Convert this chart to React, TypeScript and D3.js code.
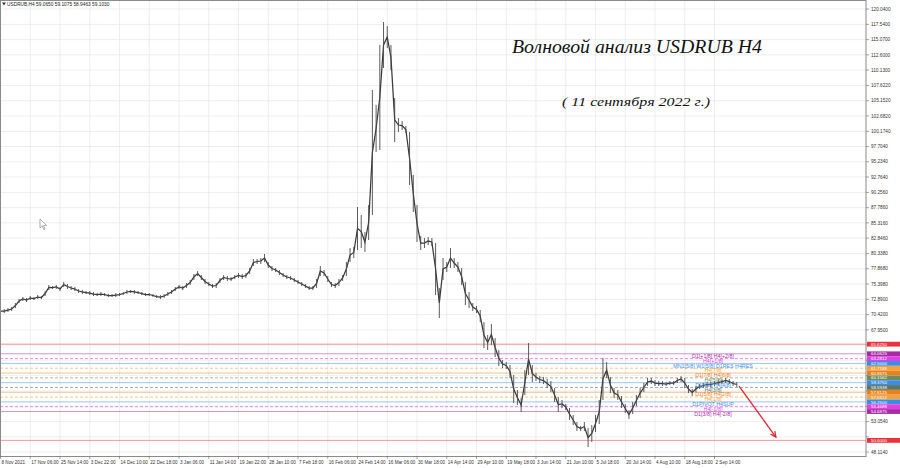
import * as d3 from "d3";

// Price samples, one per ~3.7px column (8 per time label)
const highs = [
  71.33, 71.33, 71.49, 71.66, 72.3, 72.95, 73.28, 73.12, 73.44, 73.28,
  73.6, 73.44, 74.25, 75.23, 75.06, 75.23, 74.9, 75.71, 75.39, 75.06,
  74.9, 74.58, 74.42, 74.25, 74.25, 74.09, 73.93, 74.09, 73.93, 73.77,
  73.77, 73.93, 73.93, 74.09, 74.42, 74.42, 74.42, 74.25, 74.09, 73.93,
  73.93, 73.77, 73.6, 73.6, 73.77, 74.09, 74.42, 74.9, 75.23, 75.06,
  75.55, 76.04, 77.01, 77.5, 76.85, 76.2, 75.71, 75.39, 75.55, 76.36,
  76.85, 76.69, 76.53, 76.85, 77.18, 77.01, 77.18, 77.99, 79.45, 79.45,
  79.61, 80.26, 78.96, 78.31, 77.99, 77.66, 77.18, 76.85, 76.69, 76.36,
  76.04, 75.71, 75.39, 75.06, 75.06, 76.2, 78.31, 77.66, 76.69, 75.71,
  75.55, 76.2, 76.85, 78.96, 81.23, 81.4, 87.89, 86.59, 83.83, 88.22,
  106.89, 104.45, 114.19, 117.93, 117.28, 114.19, 105.59, 102.34, 101.85, 101.04,
  100.07, 93.09, 88.22, 83.18, 82.86, 83.02, 82.86, 82.05, 74.74, 79.61,
  78.96, 81.23, 79.61, 78.96, 77.99, 75.71, 74.09, 72.3, 71.82, 71.17,
  69.22, 67.11, 68.89, 66.62, 64.67, 63.05, 62.73, 62.24, 60.61, 58.18,
  56.88, 61.43, 65.81, 62.24, 60.94, 60.45, 60.29, 59.96, 59.64, 58.5,
  57.04, 56.56, 55.91, 55.26, 54.12, 52.98, 52.34, 52.98, 52.01, 52.5,
  54.12, 56.56, 63.38, 62.73, 60.29, 58.5, 58.18, 57.21, 55.91, 54.93,
  56.23, 57.37, 58.5, 59.32, 60.13, 60.13, 59.8, 59.64, 59.64, 59.48,
  59.64, 59.64, 60.13, 60.45, 60.13, 58.99, 58.34, 58.83, 59.15, 59.32,
  59.48, 59.48, 59.64, 59.8, 59.96, 60.13, 59.96, 59.64, 59.48,
];
const lows = [
  70.68, 70.68, 70.84, 71.01, 71.49, 72.3, 72.63, 72.47, 72.79, 72.79,
  72.95, 72.95, 73.44, 74.42, 74.58, 74.58, 74.25, 74.9, 74.58, 74.42,
  74.25, 73.93, 73.77, 73.77, 73.6, 73.44, 73.44, 73.44, 73.44, 73.28,
  73.28, 73.28, 73.44, 73.6, 73.77, 73.93, 73.77, 73.77, 73.6, 73.44,
  73.44, 73.28, 73.12, 72.95, 73.12, 73.44, 73.77, 74.25, 74.58, 74.42,
  74.74, 75.23, 76.04, 76.69, 76.04, 75.39, 75.06, 74.74, 74.74, 75.55,
  76.04, 75.88, 75.88, 76.2, 76.36, 76.2, 76.36, 77.01, 78.31, 78.64,
  78.64, 78.96, 77.99, 77.5, 77.34, 76.85, 76.53, 76.2, 76.04, 75.71,
  75.39, 75.06, 74.74, 74.42, 74.42, 74.74, 76.69, 76.69, 75.71, 74.9,
  74.74, 75.06, 75.88, 76.69, 78.96, 79.61, 80.91, 81.23, 80.59, 82.53,
  86.59, 96.82, 97.15, 110.46, 113.71, 110.13, 98.45, 100.07, 100.39, 99.91,
  91.46, 87.08, 82.21, 80.91, 81.23, 81.72, 81.56, 73.6, 69.87, 76.04,
  77.34, 77.99, 77.99, 77.34, 75.23, 71.98, 71.49, 71.01, 70.68, 69.22,
  65.0, 64.67, 65.49, 63.54, 62.08, 61.75, 61.59, 60.13, 56.07, 55.74,
  54.61, 57.37, 60.61, 59.48, 59.64, 59.32, 59.15, 58.5, 57.85, 56.23,
  54.61, 55.26, 54.93, 53.31, 52.5, 51.52, 51.52, 51.52, 48.92, 49.74,
  51.36, 52.66, 56.56, 60.13, 57.69, 56.88, 56.56, 55.26, 54.45, 53.47,
  54.28, 55.58, 56.88, 57.85, 58.83, 59.15, 58.83, 58.83, 58.83, 58.83,
  58.99, 58.99, 59.32, 59.48, 58.5, 57.69, 57.21, 57.85, 58.34, 58.5,
  58.67, 58.67, 58.83, 58.99, 59.15, 59.32, 59.15, 58.83, 58.67,
];

const timeLabels = [
  "8 Nov 2021", "17 Nov 06:00", "25 Nov 14:00", "3 Dec 22:00", "14 Dec 10:00",
  "22 Dec 18:00", "3 Jan 06:00", "11 Jan 14:00", "19 Jan 22:00", "28 Jan 10:00",
  "7 Feb 18:00", "16 Feb 06:00", "24 Feb 14:00", "16 Mar 06:00", "30 Mar 18:00",
  "14 Apr 14:00", "29 Apr 10:00", "19 May 18:00", "3 Jun 14:00", "21 Jun 10:00",
  "5 Jul 18:00", "20 Jul 14:00", "4 Aug 10:00", "18 Aug 18:00", "2 Sep 14:00",
];
const BARS_PER_LABEL = 8;

const priceTicks = [
  120.04, 117.54, 115.07, 112.6, 110.13, 107.622, 105.152, 102.682, 100.174,
  97.704, 95.234, 92.764, 90.256, 87.786, 85.316, 82.846, 80.338, 77.868,
  75.398, 72.89, 70.42, 67.95, 65.48, 63.01, 60.502, 58.032, 55.562, 53.054,
  50.584, 48.114,
];

// Murrey math levels drawn by the indicator
const levelPrices = [
  65.625, 64.0625, 63.2812, 62.5, 61.7188, 60.9375, 60.1562, 59.375, 58.5938,
  57.8125, 57.0312, 56.25, 55.4688, 54.6875, 50.0,
];
const levelNames = [
  "", "D1[+1/8] H4[+2/8]", "H4[+1/8]", "MN1[5/8] W1[5/8] D1RES H4RES", "H4[7/8]",
  "D1[7/8] H4[6/8]", "H4[5/8]", "D1[6/8] H4[4/8]", "H4[3/8]", "D1[5/8] H4[2/8]",
  "H4[1/8]", "D1PIVOT H4SUP", "H4[-1/8]", "D1[3/8] H4[-2/8]", "",
];
const levelColors = [
  "#e8323c", "#a62ca6", "#e23ee2", "#3c8ce6", "#f2a23a", "#e8801e", "#6e8c5a",
  "#3c8ce6", "#5a7864", "#e8801e", "#f2a23a", "#3c8ce6", "#e23ee2", "#a62ca6",
  "#e8323c",
];
const levelDashed = [
  false, false, true, false, true, false, true, false, true, false, true,
  false, true, false, false,
];

// forecast arrow (bar index, price)
const arrowFrom = [198.6, 58.8];
const arrowTo = [208.5, 50.55];
const LABEL_BAR = 191.6;

const W = 900;
const H = 468;
const PLOT_R = 866;
const PLOT_B = 456;

export default function App() {
  const x = d3
    .scaleLinear()
    .domain([0, BARS_PER_LABEL])
    .range([0.5, 0.5 + 29.75]);
  const y = d3.scaleLinear().domain([50, 120.04]).range([440.4, 9]);

  const mid = d3
    .line<number>()
    .x((_, i) => x(i))
    .y((d, i) => y((d + lows[i]) / 2));

  const fmt = (v: number) => v.toFixed(4);
  const font = "'Liberation Sans', Arial, sans-serif";

  const ax = x(arrowFrom[0]);
  const ay = y(arrowFrom[1]);
  const bx = x(arrowTo[0]);
  const by = y(arrowTo[1]);
  const ang = Math.atan2(by - ay, bx - ax);
  const head = (a: number) =>
    `${bx + 6 * Math.cos(ang + Math.PI - a)},${by + 6 * Math.sin(ang + Math.PI - a)}`;

  // axis labels hidden under the level boxes are not printed
  const covered = (p: number) =>
    levelPrices.some((l) => Math.abs(y(l) - y(p)) < 4.5);

  return (
    <svg
      width={W}
      height={H}
      style={{ position: "absolute", left: 0, top: 0, background: "#fff" }}
      fontFamily={font}
    >
      <rect width={W} height={H} fill="#fff" />
      {/* grid */}
      <g stroke="#e6e6e6" strokeWidth={0.7}>
        {priceTicks.map((p) => (
          <line key={p} x1={0} x2={PLOT_R} y1={y(p)} y2={y(p)} />
        ))}
        {timeLabels.map((t, i) => (
          <line key={t} x1={x(i * BARS_PER_LABEL)} x2={x(i * BARS_PER_LABEL)} y1={0} y2={PLOT_B} />
        ))}
      </g>

      {/* level lines */}
      {levelPrices.map((p, i) => (
        <line
          key={p}
          x1={0}
          x2={PLOT_R}
          y1={y(p)}
          y2={y(p)}
          stroke={levelColors[i]}
          strokeOpacity={levelDashed[i] ? 0.6 : 0.5}
          strokeWidth={1}
          strokeDasharray={levelDashed[i] ? "3,2" : undefined}
        />
      ))}

      {/* price bars */}
      <path d={mid(highs) || ""} fill="none" stroke="#3a3a3a" strokeWidth={1.25} />
      <g stroke="#484848" strokeWidth={0.9}>
        {highs.map((h, i) => (
          <line key={i} x1={x(i)} x2={x(i)} y1={y(h)} y2={y(lows[i])} />
        ))}
      </g>

      {/* level labels */}
      {levelPrices.map((p, i) =>
        levelNames[i] ? (
          <text
            key={p}
            x={x(LABEL_BAR)}
            y={y(p) + 4.2}
            fontSize={5.3}
            textAnchor="middle"
            fill={levelColors[i]}
          >
            {levelNames[i]}
          </text>
        ) : null
      )}

      {/* arrow */}
      <g stroke="#e0282e" strokeWidth={1.3} fill="none">
        <line x1={ax} y1={ay} x2={bx} y2={by} />
        <polyline points={`${head(0.45)} ${bx},${by} ${head(-0.45)}`} />
      </g>

      {/* frame */}
      <rect x={0.5} y={0.5} width={PLOT_R - 0.5} height={PLOT_B} fill="none" stroke="#8a8a8a" strokeWidth={1} />

      {/* right axis */}
      <g fontSize={4.7} fill="#333">
        {priceTicks.map((p) => (
          <g key={p}>
            <line x1={PLOT_R} x2={PLOT_R + 3} y1={y(p)} y2={y(p)} stroke="#666" strokeWidth={0.6} />
            {covered(p) ? null : (
              <text x={PLOT_R + 5} y={y(p) + 1.7}>
                {fmt(p)}
              </text>
            )}
          </g>
        ))}
      </g>
      {levelPrices.map((p, i) => (
        <g key={p}>
          <rect x={PLOT_R + 1} y={y(p) - 2.4} width={W - PLOT_R - 1} height={4.8} fill={levelColors[i]} />
          <text x={PLOT_R + 5} y={y(p) + 1.6} fontSize={4.4} fill="#fff">
            {fmt(p)}
          </text>
        </g>
      ))}

      {/* bottom axis */}
      <g fontSize={4.6} fill="#333">
        {timeLabels.map((t, i) => (
          <g key={t}>
            <line
              x1={x(i * BARS_PER_LABEL)}
              x2={x(i * BARS_PER_LABEL)}
              y1={PLOT_B}
              y2={PLOT_B + 3}
              stroke="#666"
              strokeWidth={0.6}
            />
            <text x={x(i * BARS_PER_LABEL) + 1} y={PLOT_B + 8}>
              {t}
            </text>
          </g>
        ))}
      </g>

      {/* header */}
      <path d="M2,2.5 L6,2.5 L4,5.5 Z" fill="#333" />
      <text x={7} y={6} fontSize={4.8} fill="#222">
        USDRUB,H4  59.0650 59.1075 58.9463 59.1030
      </text>

      {/* cursor */}
      <path
        d="M40,219 L40,228 L42.2,226 L43.8,229.5 L45,229 L43.5,225.6 L46.5,225.4 Z"
        fill="#fff"
        stroke="#777"
        strokeWidth={0.6}
      />

      {/* titles */}
      <text
        x={512}
        y={53}
        fontSize={18}
        fontStyle="italic"
        fontFamily="'Liberation Serif', 'DejaVu Serif', serif"
        textLength={250}
        lengthAdjust="spacingAndGlyphs"
        fill="#111"
      >
        Волновой анализ USDRUB H4
      </text>
      <text
        x={562}
        y={106}
        fontSize={13}
        fontStyle="italic"
        fontFamily="'Liberation Serif', 'DejaVu Serif', serif"
        textLength={148}
        lengthAdjust="spacingAndGlyphs"
        fill="#111"
      >
        ( 11 сентября 2022 г.)
      </text>
    </svg>
  );
}
